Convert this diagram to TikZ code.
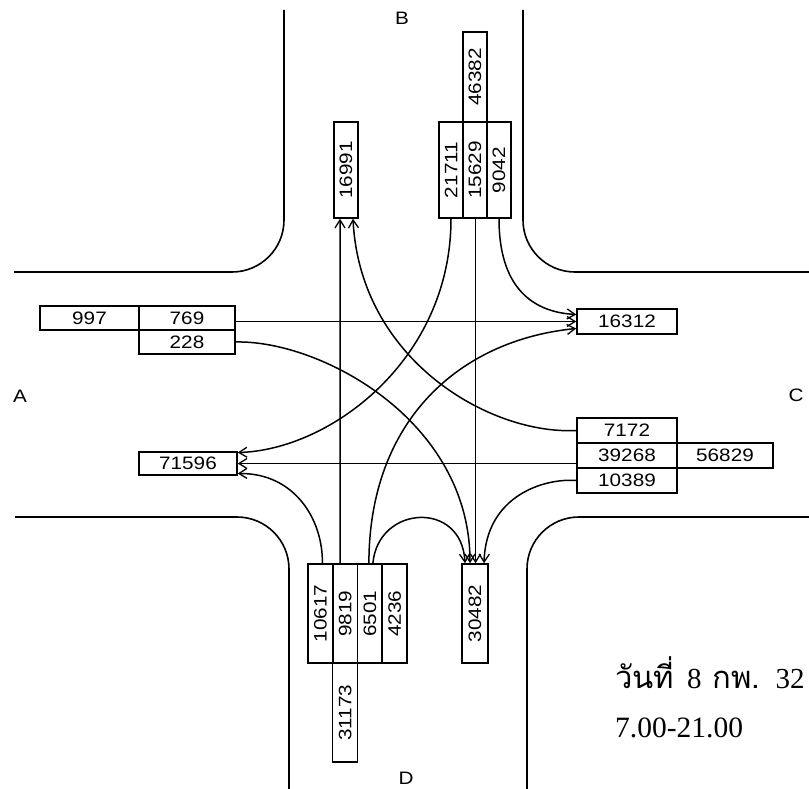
\documentclass[tikz,border=0pt]{standalone}
\usepackage{fontspec}
\usepackage{graphicx}
\setmainfont{Liberation Sans}[FakeStretch=1.15]
\newfontfamily\thaifont[Script=Thai]{Loma}
\newfontfamily\serifnum{Liberation Serif}
\usetikzlibrary{arrows.meta}
\begin{document}
\begin{tikzpicture}[x=1pt,y=-1pt,
  every node/.style={font=\fontsize{18}{18}\selectfont},
  road/.style={line width=1.6pt, rounded corners=52pt},
  cell/.style={draw, line width=1.5pt, inner sep=0pt, anchor=center},
  flow/.style={line width=1.5pt, -{Straight Barb[length=8pt,width=10pt,line width=1.3pt]}},
]
\useasboundingbox[fill=white] (0,0) rectangle (809,789);

% roads
\draw[road] (284,10) -- (284,272) -- (14,272);
\draw[road] (523,10) -- (523,272) -- (809,272);
\draw[road] (15,517) -- (289,517) -- (289,789);
\draw[road] (809,517) -- (527,517) -- (527,789);

% approach B (top)
\node[cell, minimum width=24pt, minimum height=90pt] (n46382) at (475,77) {\rotatebox{90}{46382}};
\node[cell, minimum width=24pt, minimum height=96pt] (n21711) at (451,170) {\rotatebox{90}{21711}};
\node[cell, minimum width=24pt, minimum height=96pt] (n15629) at (475,170) {\rotatebox{90}{15629}};
\node[cell, minimum width=24pt, minimum height=96pt] (n9042) at (499,170) {\rotatebox{90}{9042}};
\node[cell, minimum width=24pt, minimum height=96pt] (n16991) at (346,170) {\rotatebox{90}{16991}};

% approach A (left)
\node[cell, minimum width=99pt, minimum height=24pt] (n997) at (89.5,318) {997};
\node[cell, minimum width=96pt, minimum height=24pt] (n769) at (187,318) {769};
\node[cell, minimum width=96pt, minimum height=24pt] (n228) at (187,342) {228};
\node[cell, minimum width=98pt, minimum height=23pt] (n71596) at (188,463.5) {71596};

% approach C (right)
\node[cell, minimum width=100pt, minimum height=25pt] (n16312) at (627,321.5) {16312};
\node[cell, minimum width=100pt, minimum height=25pt] (n7172) at (627,430.5) {7172};
\node[cell, minimum width=100pt, minimum height=25pt] (n39268) at (627,455.5) {39268};
\node[cell, minimum width=96pt, minimum height=25pt] (n56829) at (725,455.5) {56829};
\node[cell, minimum width=100pt, minimum height=25pt] (n10389) at (627,480.5) {10389};

% approach D (bottom)
\node[cell, minimum width=24.75pt, minimum height=99pt] (n10617) at (320.4,613.5) {\rotatebox{90}{10617}};
\node[cell, minimum width=24.75pt, minimum height=99pt] (n9819) at (345.1,613.5) {\rotatebox{90}{9819}};
\node[cell, minimum width=24.75pt, minimum height=99pt] (n6501) at (369.9,613.5) {\rotatebox{90}{6501}};
\node[cell, minimum width=24.75pt, minimum height=99pt] (n4236) at (394.6,613.5) {\rotatebox{90}{4236}};
\node[cell, minimum width=24.75pt, minimum height=99pt] (n31173) at (345.1,712.5) {\rotatebox{90}{31173}};
\node[cell, minimum width=26pt, minimum height=99pt] (n30482) at (475,613.5) {\rotatebox{90}{30482}};

% flows
\draw[flow] (n769.east |- n16312.west) -- (n16312.west);
\draw[flow] (n228.east) .. controls (320,340) and (470,420) .. ([xshift=-5pt]n30482.north);
\draw[flow] (n21711.south) .. controls (451,360) and (330,450) .. ([yshift=11pt]n71596.east);
\draw[flow] ([xshift=0.5pt]n15629.south) -- ([xshift=0.5pt]n30482.north);
\draw[flow] (n9042.south) .. controls (499,285) and (530,312) .. ([yshift=7pt]n16312.west);
\draw[flow] (n7172.west) .. controls (490,435) and (360,360) .. ([xshift=7pt]n16991.south);
\draw[flow] (n39268.west |- n71596.east) -- (n71596.east);
\draw[flow] (n10389.west) .. controls (545,478) and (486,495) .. ([xshift=9pt]n30482.north);
\draw[flow] ([xshift=2pt]n10617.north) .. controls (323,520) and (295,473) .. ([yshift=-10pt]n71596.east);
\draw[flow] ([xshift=-5pt]n9819.north) -- ([xshift=-6pt]n16991.south);
\draw[flow] ([xshift=-1pt]n6501.north) .. controls (369,420) and (460,340) .. ([yshift=-7pt]n16312.west);
\draw[flow] ([xshift=3pt]n6501.north) .. controls (378,505) and (462,500) .. ([xshift=-10pt]n30482.north);

% labels
\node (lA) at (20,396) {A};
\node (lB) at (402,18) {B};
\node (lC) at (796,395) {C};
\node (lD) at (406,778) {D};

\node[anchor=base west, inner sep=0pt] (date) at (615,688)
  {{\thaifont\fontsize{31}{31}\selectfont วันที่}\hspace{13pt}{\serifnum\fontsize{29}{29}\selectfont 8}\hspace{11pt}{\thaifont\fontsize{31}{31}\selectfont กพ.}\hspace{15pt}{\serifnum\fontsize{29}{29}\selectfont 32}};
\node[anchor=base west, inner sep=0pt, font=\serifnum\fontsize{29.5}{29.5}\selectfont] (time) at (615,737) {7.00-21.00};
\end{tikzpicture}
\end{document}
